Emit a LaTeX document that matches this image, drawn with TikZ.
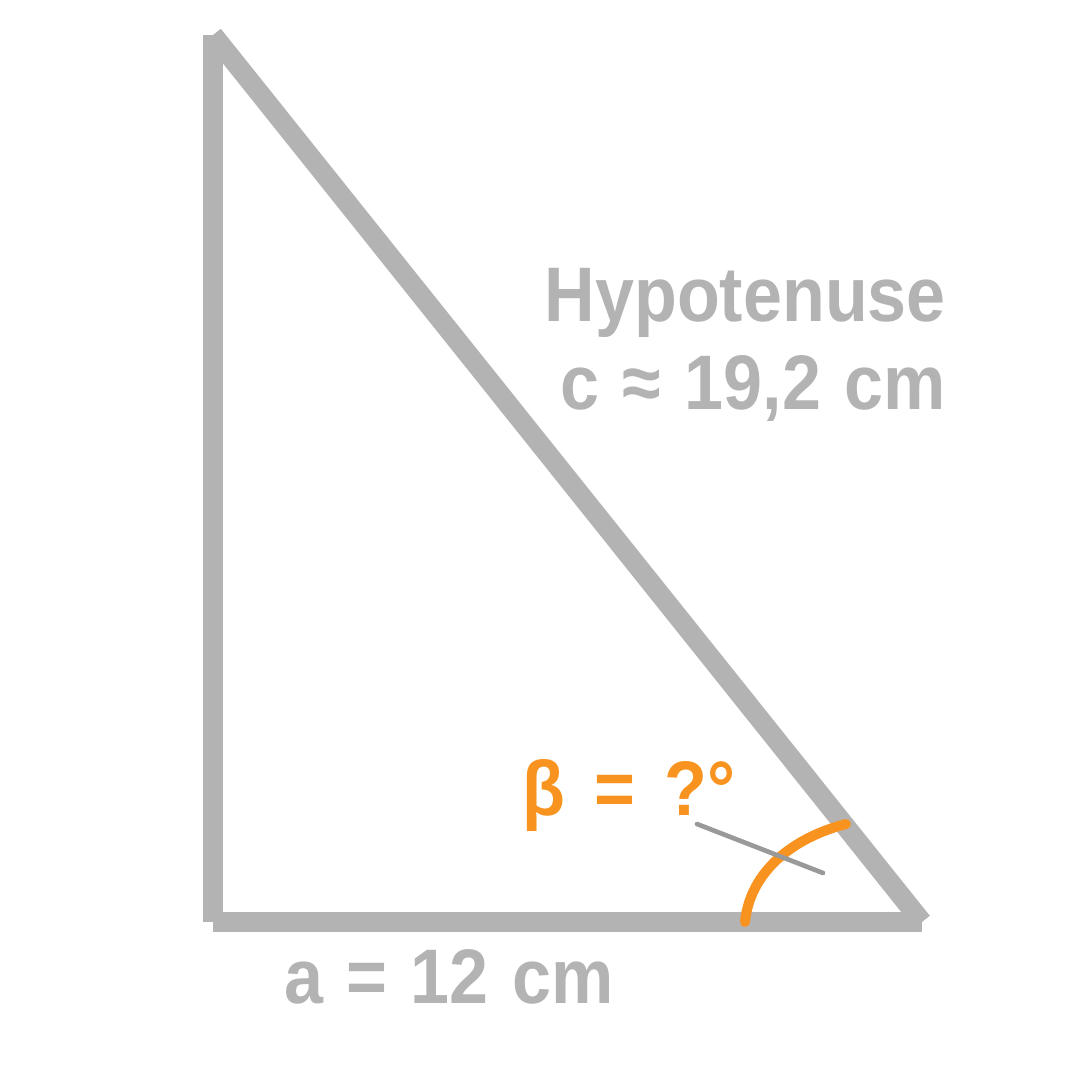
\documentclass[tikz,border=0pt]{standalone}
\usepackage{fontspec}
\setmainfont{Liberation Sans}[FakeStretch=0.906, WordSpace=1.2]
\usepackage{tikz}
\usetikzlibrary{positioning}
\definecolor{trigray}{RGB}{179,179,179}
\definecolor{triorange}{RGB}{247,147,30}
\definecolor{ptrgray}{RGB}{153,153,153}
\newcommand{\widespace}{\spaceskip=22pt\relax}
\tikzset{
    side/.style={draw=trigray, line width=15pt, line cap=butt},
    anglearc/.style={draw=triorange, line width=7.5pt, line cap=round},
    pointer/.style={draw=ptrgray, line width=3.5pt, line cap=round},
    lbl/.style={font=\bfseries\fontsize{58}{64}\selectfont, text=trigray, inner sep=0pt},
    anglelbl/.style={lbl, text=triorange},
}
\begin{document}
\begin{tikzpicture}[x=0.75pt, y=-0.75pt]
    \useasboundingbox (0,0) rectangle (1068,1068);
    % triangle corners
    \coordinate (A) at (213,35);
    \coordinate (C) at (213,922);
    \coordinate (B) at (922,922);
    \draw[side] (A) -- (C);
    \draw[side] (C) -- (B);
    \draw[side] (A) -- (B);
    % angle at B
    \coordinate (arcstart) at (745,922);
    \coordinate (arcend) at (846,824);
    \draw[anglearc] (arcstart) .. controls (750,872) and (792,838) .. (arcend);
    \coordinate (ptrstart) at (697,824);
    \coordinate (ptrend) at (823,873);
    \draw[pointer] (ptrstart) -- (ptrend);
    % labels
    \node[lbl, anchor=base east] (hyp) at (946,321) {Hypotenuse};
    \node[lbl, anchor=base east] (clen) at (946,409) {c ≈ 19,2 cm};
    \node[anglelbl, anchor=base west] (beta) at (522,815) {\widespace β = ?°};
    \node[lbl, anchor=base west] (alen) at (284,1003) {a = 12 cm};
\end{tikzpicture}
\end{document}
